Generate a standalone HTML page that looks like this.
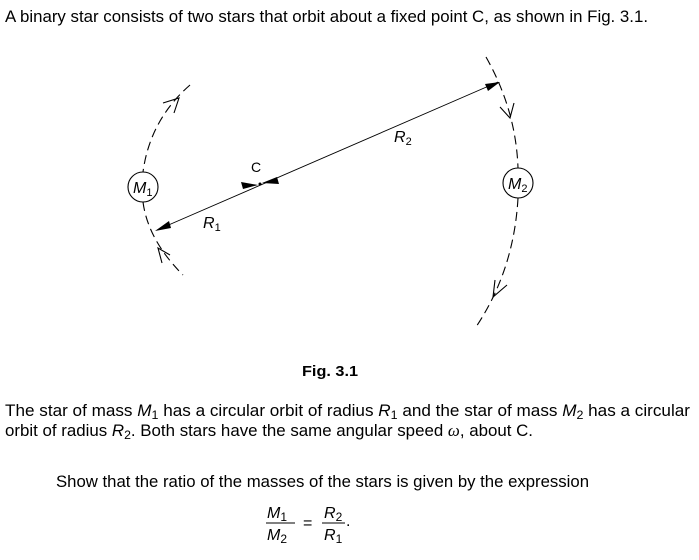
<!DOCTYPE html>
<html><head><style>
body{margin:0;background:#fff;width:699px;height:560px;overflow:hidden}
svg{display:block}
text{font-family:"Liberation Sans",Arial,sans-serif;fill:#000}
</style></head><body>
<svg width="699" height="560" viewBox="0 0 699 560">
<text x="5" y="22" font-size="16.5" textLength="643" lengthAdjust="spacingAndGlyphs">A binary star consists of two stars that orbit about a fixed point C, as shown in Fig. 3.1.</text>
<g fill="none" stroke="#000" stroke-width="1.1" stroke-dasharray="9,5">
<path d="M190 85 Q150 120 143 172"/>
<path d="M143 202 Q148 240 183 275"/>
<path d="M486 57 Q516 110 518 168"/>
<path d="M518 198 Q514 270 476 327"/>
</g>
<circle cx="143" cy="187" r="15" fill="#fff" stroke="#000" stroke-width="1.1"/>
<circle cx="518" cy="183" r="15" fill="#fff" stroke="#000" stroke-width="1.1"/>
<text x="133" y="193" font-size="16" font-style="italic">M<tspan font-size="11" dy="3" font-style="normal">1</tspan></text>
<text x="508" y="189" font-size="16" font-style="italic">M<tspan font-size="11" dy="3" font-style="normal">2</tspan></text>
<g fill="none" stroke="#000" stroke-width="1.1">
<path d="M163 103 L179 98 L174 113"/>
<path d="M162 263 L158 248 L170 255"/>
<path d="M500 107 L510 118 L514 103"/>
<path d="M495 280 L493 297 L507 285"/>
</g>
<line x1="157" y1="230" x2="498" y2="82" stroke="#000" stroke-width="0.9"/>
<g fill="#000">
<polygon points="155,231 169,221 171,228"/>
<polygon points="500,82 485,84 488,91"/>
<polygon points="258,185 243,189 241,182"/>
<polygon points="262,183 277,177 279,184"/>
<circle cx="260" cy="184" r="1.5"/>
</g>
<text x="251" y="172" font-size="14">C</text>
<text x="203" y="228" font-size="16" font-style="italic">R<tspan font-size="11" dy="3" font-style="normal">1</tspan></text>
<text x="394" y="142" font-size="16" font-style="italic">R<tspan font-size="11" dy="3" font-style="normal">2</tspan></text>
<text x="302" y="376" font-size="15" font-weight="bold" textLength="56" lengthAdjust="spacingAndGlyphs">Fig. 3.1</text>
<text x="5" y="416" font-size="16.5" textLength="685" lengthAdjust="spacingAndGlyphs">The star of mass <tspan font-style="italic">M</tspan><tspan font-size="12" dy="3">1</tspan><tspan dy="-3"> has a circular orbit of radius </tspan><tspan font-style="italic">R</tspan><tspan font-size="12" dy="3">1</tspan><tspan dy="-3"> and the star of mass </tspan><tspan font-style="italic">M</tspan><tspan font-size="12" dy="3">2</tspan><tspan dy="-3"> has a circular</tspan></text>
<text x="5" y="436" font-size="16.5" textLength="528" lengthAdjust="spacingAndGlyphs">orbit of radius <tspan font-style="italic">R</tspan><tspan font-size="12" dy="3">2</tspan><tspan dy="-3">. Both stars have the same angular speed </tspan><tspan font-style="italic" font-family="Liberation Serif">ω</tspan>, about C.</text>
<text x="56" y="487" font-size="16.5" textLength="533" lengthAdjust="spacingAndGlyphs">Show that the ratio of the masses of the stars is given by the expression</text>
<text x="267" y="518" font-size="16" font-style="italic">M<tspan font-size="12" dy="3" font-style="normal">1</tspan></text>
<line x1="266" y1="523" x2="295" y2="523" stroke="#000" stroke-width="1"/>
<text x="267" y="540" font-size="16" font-style="italic">M<tspan font-size="12" dy="3" font-style="normal">2</tspan></text>
<text x="303" y="528" font-size="16">=</text>
<text x="324" y="518" font-size="16" font-style="italic">R<tspan font-size="12" dy="3" font-style="normal">2</tspan></text>
<line x1="322" y1="523" x2="345" y2="523" stroke="#000" stroke-width="1"/>
<text x="324" y="540" font-size="16" font-style="italic">R<tspan font-size="12" dy="3" font-style="normal">1</tspan></text>
<text x="346" y="526" font-size="16">.</text>
</svg>
</body></html>
